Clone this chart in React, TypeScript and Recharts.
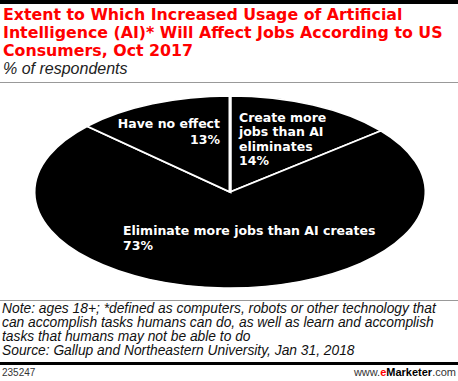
import { Cell, Pie, PieChart } from "recharts";

const categories = ["Create more jobs than AI eliminates", "Eliminate more jobs than AI creates", "Have no effect"];
const shares = [14, 73, 13];
const labelLines = [
  ["Create more", "jobs than AI", "eliminates", "14%"],
  ["Eliminate more jobs than AI creates", "73%"],
  ["Have no effect", "13%"],
];

const data = categories.map((name, i) => ({ name, value: shares[i] }));

// ellipse: rx 196, ry 96
const R = 196;
const S = 96 / 196;
const CY = 200;

// label offsets from centre in page pixels
const labelPos = [
  { dx: 9, dy: -70, anchor: "start", lh: 14.5 },
  { dx: -107, dy: 43, anchor: "start", lh: 15.5 },
  { dx: -10, dy: -64, anchor: "end", lh: 16 },
];

const font = "'Liberation Sans', Arial, sans-serif";
const boldFont = "'DejaVu Sans', sans-serif";

function renderLabel(props: any) {
  const { cx, cy, index } = props;
  const p = labelPos[index];
  const x = cx + p.dx;
  const y = cy + p.dy / S;
  return (
    <text
      key={index}
      transform={`translate(${x},${y}) scale(1,${1 / S})`}
      fill="#fff"
      fontFamily={boldFont}
      fontWeight="bold"
      fontSize={12.5}
      textAnchor={p.anchor}
    >
      {labelLines[index].map((t, j) => (
        <tspan key={j} x={0} y={j * p.lh}>
          {t}
        </tspan>
      ))}
    </text>
  );
}

export default function App() {
  return (
    <div style={{ position: "absolute", left: 0, top: 0, width: 458, height: 381, background: "#fff", fontFamily: font, overflow: "hidden" }}>
      <div style={{ position: "absolute", left: 0, top: 0, width: 458, height: 4, background: "#000" }} />
      <div style={{ position: "absolute", left: 3, top: 6, width: 455, color: "#f00", fontFamily: boldFont, fontWeight: "bold", fontSize: 15.8, lineHeight: "18px", whiteSpace: "nowrap" }}>
        Extent to Which Increased Usage of Artificial
        <br />
        Intelligence (AI)* Will Affect Jobs According to US
        <br />
        Consumers, Oct 2017
      </div>
      <div style={{ position: "absolute", left: 3, top: 60, fontStyle: "italic", fontSize: 16, color: "#222" }}>% of respondents</div>
      <div style={{ position: "absolute", left: 0, top: 82, width: 458, height: 1, background: "#999" }} />

      <div style={{ position: "absolute", left: 0, top: 192 - CY * S, width: 458, height: 400, transform: `scaleY(${S})`, transformOrigin: "0 0" }}>
        <PieChart width={458} height={400} margin={{ top: 0, right: 0, bottom: 0, left: 0 }}>
          <Pie
            data={data}
            dataKey="value"
            nameKey="name"
            cx={230}
            cy={CY}
            outerRadius={R}
            startAngle={90}
            endAngle={-270}
            stroke="#fff"
            strokeWidth={3}
            label={renderLabel}
            labelLine={false}
            isAnimationActive={false}
          >
            {data.map((d) => (
              <Cell key={d.name} fill="#000" vectorEffect="non-scaling-stroke" />
            ))}
          </Pie>
        </PieChart>
      </div>

      <div style={{ position: "absolute", left: 0, top: 300, width: 458, height: 1, background: "#999" }} />
      <div style={{ position: "absolute", left: 2, top: 302, width: 456, fontStyle: "italic", fontSize: 13.8, lineHeight: "14px", color: "#111", whiteSpace: "nowrap" }}>
        Note: ages 18+; *defined as computers, robots or other technology that
        <br />
        can accomplish tasks humans can do, as well as learn and accomplish
        <br />
        tasks that humans may not be able to do
        <br />
        Source: Gallup and Northeastern University, Jan 31, 2018
      </div>
      <div style={{ position: "absolute", left: 0, top: 362, width: 458, height: 3, background: "#000" }} />
      <div style={{ position: "absolute", left: 2, top: 367, fontSize: 10, color: "#333" }}>235247</div>
      <div style={{ position: "absolute", right: 2, top: 366, fontSize: 11, color: "#333" }}>
        www.<span style={{ color: "#f00", fontWeight: "bold" }}>e</span>
        <span style={{ color: "#000", fontWeight: "bold" }}>Marketer</span>.com
      </div>
    </div>
  );
}
